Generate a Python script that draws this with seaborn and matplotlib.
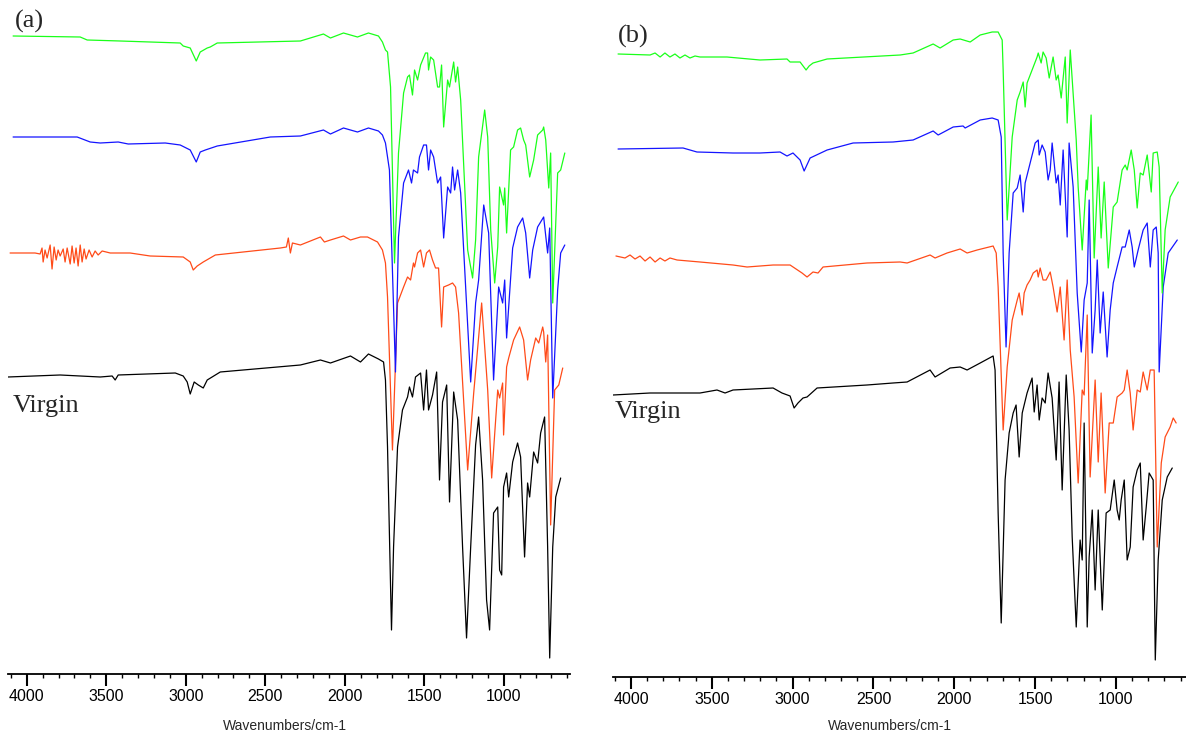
import pandas as pd
import matplotlib
matplotlib.use("Agg")
import matplotlib.pyplot as plt
import seaborn as sns
from matplotlib.ticker import MultipleLocator

# FTIR spectra, (wavenumber cm-1, transmittance a.u. incl. stacking offset)
samples = ["Virgin", "S1", "S2", "S3"]
colors = ["#000000", "#ff4b19", "#1414ff", "#1aff1a"]

# ---------------- panel (a) ----------------
a_virgin = [(4118, 323), (3790, 325), (3538, 323), (3463, 324), (3444, 320), (3425, 325),
            (3066, 327), (3016, 324), (2991, 318), (2972, 306), (2947, 318), (2921, 315),
            (2890, 312), (2865, 320), (2783, 328), (2279, 335), (2153, 340), (2090, 337),
            (1964, 344), (1901, 338), (1851, 346), (1788, 341), (1756, 338), (1744, 320),
            (1731, 253), (1706, 70), (1693, 153), (1668, 253), (1637, 290), (1605, 303),
            (1593, 313), (1574, 303), (1555, 323), (1523, 327), (1504, 290), (1486, 330),
            (1473, 290), (1448, 305), (1422, 328), (1404, 220), (1385, 298), (1359, 315),
            (1341, 198), (1315, 308), (1290, 280), (1259, 153), (1234, 62), (1208, 153),
            (1177, 255), (1158, 283), (1133, 220), (1108, 100), (1089, 70), (1064, 187),
            (1038, 193), (1026, 130), (1013, 125), (1001, 213), (982, 227), (969, 203),
            (944, 238), (913, 257), (894, 243), (869, 143), (850, 217), (837, 203),
            (812, 248), (787, 237), (768, 267), (743, 283), (724, 153), (711, 42),
            (692, 153), (673, 203), (642, 222)]

a_s1 = [(4105, 447), (3948, 447), (3916, 446), (3904, 452), (3897, 438), (3885, 450),
        (3872, 442), (3853, 455), (3841, 431), (3828, 453), (3815, 440), (3803, 450),
        (3790, 444), (3771, 451), (3759, 438), (3746, 452), (3727, 436), (3715, 454),
        (3702, 437), (3690, 452), (3677, 434), (3664, 455), (3652, 438), (3639, 451),
        (3627, 441), (3608, 450), (3589, 443), (3570, 449), (3551, 445), (3526, 449),
        (3475, 447), (3350, 447), (3224, 444), (3016, 443), (2972, 438), (2953, 430),
        (2928, 434), (2890, 438), (2814, 445), (2405, 452), (2367, 453), (2355, 462),
        (2342, 447), (2329, 457), (2279, 455), (2153, 463), (2128, 458), (2090, 460),
        (2008, 464), (1964, 460), (1901, 463), (1857, 463), (1794, 458), (1763, 450),
        (1744, 437), (1731, 403), (1700, 250), (1668, 397), (1630, 413), (1605, 423),
        (1586, 420), (1568, 437), (1561, 433), (1542, 447), (1523, 450), (1504, 433),
        (1486, 447), (1467, 450), (1448, 440), (1429, 432), (1410, 432), (1391, 373),
        (1378, 413), (1347, 415), (1322, 417), (1303, 413), (1284, 387), (1227, 230),
        (1189, 307), (1139, 397), (1101, 310), (1076, 222), (1038, 310), (1026, 302),
        (1007, 317), (1001, 265), (982, 333), (969, 342), (938, 360), (900, 373),
        (875, 360), (850, 320), (831, 340), (799, 362), (780, 357), (755, 373),
        (749, 368), (736, 338), (724, 365), (705, 175), (680, 310), (654, 315),
        (629, 332)]

a_s2 = [(4086, 563), (3683, 563), (3601, 558), (3538, 557), (3425, 558), (3362, 556),
        (3129, 557), (3035, 555), (2972, 550), (2934, 538), (2909, 548), (2877, 550),
        (2802, 554), (2468, 563), (2279, 564), (2134, 570), (2090, 566), (2008, 572),
        (1920, 568), (1851, 572), (1788, 569), (1763, 565), (1744, 557), (1731, 543),
        (1719, 530), (1681, 328), (1662, 463), (1630, 517), (1599, 530), (1580, 517),
        (1568, 530), (1542, 527), (1530, 543), (1504, 555), (1486, 555), (1473, 530),
        (1460, 550), (1441, 543), (1416, 517), (1397, 523), (1378, 462), (1353, 513),
        (1334, 507), (1322, 533), (1309, 510), (1290, 530), (1271, 507), (1208, 318),
        (1177, 397), (1158, 420), (1126, 495), (1095, 467), (1064, 320), (1032, 413),
        (1007, 397), (994, 420), (982, 362), (944, 452), (913, 473), (881, 482),
        (862, 467), (837, 422), (818, 450), (787, 473), (768, 478), (749, 483),
        (724, 447), (711, 472), (692, 302), (661, 410), (642, 447), (616, 455)]

a_s3 = [(4086, 664), (3664, 663), (3620, 660), (3412, 659), (3224, 658), (3035, 657),
        (3016, 654), (2972, 652), (2934, 639), (2909, 648), (2865, 652), (2846, 653),
        (2802, 657), (2279, 659), (2134, 666), (2090, 662), (2008, 667), (1920, 663),
        (1851, 667), (1788, 664), (1763, 658), (1744, 650), (1731, 648), (1712, 613),
        (1687, 437), (1662, 547), (1630, 607), (1605, 623), (1593, 625), (1574, 605),
        (1561, 630), (1542, 620), (1523, 635), (1492, 647), (1479, 647), (1473, 630),
        (1460, 643), (1441, 640), (1416, 613), (1404, 613), (1391, 635), (1378, 573),
        (1353, 620), (1341, 613), (1315, 638), (1303, 618), (1290, 633), (1271, 600),
        (1227, 450), (1196, 422), (1177, 460), (1158, 543), (1120, 590), (1101, 563),
        (1082, 470), (1057, 417), (1038, 453), (1026, 513), (1001, 495), (994, 512),
        (982, 467), (957, 550), (938, 553), (913, 570), (894, 572), (875, 560),
        (862, 555), (837, 523), (812, 540), (787, 565), (755, 570), (749, 573),
        (736, 560), (717, 512), (705, 547), (692, 397), (661, 527), (642, 530),
        (616, 547)]

# ---------------- panel (b) ----------------
b_virgin = [(4111, 305), (3882, 307), (3573, 307), (3468, 310), (3418, 307), (3369, 310),
            (3121, 312), (3066, 307), (3016, 304), (2991, 292), (2967, 297), (2936, 302),
            (2911, 303), (2849, 312), (2540, 315), (2379, 317), (2292, 318), (2150, 330),
            (2119, 323), (2026, 332), (1964, 333), (1921, 330), (1840, 337), (1760, 344),
            (1748, 330), (1729, 187), (1710, 77), (1686, 220), (1661, 267), (1636, 287),
            (1618, 295), (1599, 243), (1580, 287), (1550, 307), (1519, 322), (1506, 288),
            (1488, 315), (1475, 280), (1457, 302), (1438, 297), (1420, 327), (1395, 302),
            (1370, 240), (1352, 318), (1333, 210), (1308, 325), (1290, 270), (1271, 163),
            (1246, 73), (1222, 160), (1209, 140), (1197, 277), (1178, 73), (1166, 143),
            (1147, 190), (1129, 110), (1110, 190), (1085, 90), (1061, 187), (1036, 190),
            (1011, 220), (993, 190), (980, 180), (968, 200), (949, 220), (931, 140),
            (912, 153), (894, 213), (869, 230), (850, 237), (832, 160), (813, 193),
            (795, 227), (770, 220), (757, 40), (739, 140), (714, 200), (683, 223),
            (652, 232)]

b_s1 = [(4093, 444), (4037, 442), (4006, 445), (3975, 441), (3944, 444), (3913, 439),
        (3882, 443), (3851, 438), (3820, 442), (3790, 439), (3759, 442), (3715, 440),
        (3573, 438), (3369, 435), (3282, 433), (3121, 435), (3016, 435), (2942, 427),
        (2911, 423), (2874, 428), (2843, 427), (2812, 433), (2540, 437), (2335, 438),
        (2292, 437), (2150, 445), (2119, 442), (2045, 447), (1964, 451), (1921, 447),
        (1859, 450), (1760, 454), (1741, 447), (1729, 413), (1698, 270), (1673, 333),
        (1642, 380), (1611, 400), (1599, 407), (1580, 385), (1568, 407), (1550, 415),
        (1531, 420), (1512, 427), (1488, 430), (1481, 423), (1469, 432), (1451, 420),
        (1432, 420), (1407, 428), (1389, 413), (1364, 388), (1345, 413), (1321, 360),
        (1302, 420), (1283, 350), (1259, 303), (1234, 217), (1209, 310), (1197, 305),
        (1178, 385), (1160, 223), (1129, 320), (1110, 238), (1092, 307), (1067, 207),
        (1042, 277), (1017, 277), (993, 303), (962, 307), (949, 310), (931, 330),
        (912, 307), (894, 270), (869, 310), (850, 308), (832, 328), (807, 310),
        (788, 330), (764, 330), (745, 153), (720, 237), (696, 263), (665, 273),
        (646, 282), (628, 277)]

b_s2 = [(4080, 551), (3678, 552), (3592, 548), (3369, 547), (3202, 547), (3078, 548),
        (3035, 544), (2998, 547), (2954, 540), (2929, 529), (2892, 542), (2787, 550),
        (2626, 557), (2379, 558), (2255, 560), (2131, 569), (2100, 565), (2007, 573),
        (1946, 574), (1933, 572), (1840, 580), (1766, 582), (1729, 580), (1710, 563),
        (1698, 447), (1680, 353), (1661, 447), (1636, 507), (1611, 512), (1593, 525),
        (1574, 488), (1562, 517), (1531, 537), (1500, 557), (1481, 560), (1475, 545),
        (1457, 555), (1438, 548), (1420, 520), (1407, 530), (1395, 557), (1370, 517),
        (1358, 525), (1345, 495), (1327, 550), (1302, 463), (1290, 557), (1265, 513),
        (1240, 407), (1215, 348), (1197, 400), (1178, 417), (1166, 500), (1147, 347),
        (1129, 390), (1116, 440), (1098, 367), (1079, 408), (1055, 343), (1036, 390),
        (1017, 417), (993, 433), (962, 453), (943, 453), (918, 470), (900, 453),
        (887, 433), (863, 450), (832, 470), (807, 477), (788, 433), (770, 470),
        (751, 473), (739, 447), (733, 328), (708, 413), (677, 447), (621, 460)]

b_s3 = [(4080, 646), (3882, 645), (3851, 647), (3820, 643), (3790, 647), (3759, 643),
        (3728, 646), (3697, 642), (3666, 645), (3635, 642), (3604, 644), (3573, 643),
        (3406, 643), (3202, 640), (3035, 641), (3016, 638), (2954, 638), (2917, 630),
        (2898, 634), (2874, 637), (2787, 641), (2335, 645), (2255, 647), (2131, 656),
        (2088, 652), (2007, 660), (1964, 661), (1902, 658), (1840, 665), (1766, 668),
        (1729, 668), (1704, 660), (1698, 630), (1673, 480), (1642, 563), (1611, 600),
        (1593, 608), (1574, 618), (1562, 593), (1550, 617), (1519, 630), (1488, 643),
        (1481, 647), (1463, 637), (1451, 648), (1432, 642), (1413, 622), (1389, 643),
        (1370, 620), (1358, 625), (1339, 602), (1314, 643), (1302, 577), (1283, 650),
        (1246, 560), (1234, 513), (1209, 450), (1184, 520), (1178, 510), (1154, 585),
        (1135, 442), (1110, 533), (1092, 462), (1073, 518), (1048, 432), (1017, 493),
        (993, 498), (962, 530), (943, 535), (931, 530), (906, 550), (887, 530),
        (869, 492), (850, 527), (832, 525), (807, 545), (782, 508), (770, 547),
        (745, 548), (733, 533), (714, 407), (696, 470), (665, 503), (615, 518)]


def to_frame(traces):
    rows = []
    for name, pts in zip(samples, traces):
        for wn, t in pts:
            rows.append((name, wn, t))
    return pd.DataFrame(rows, columns=["sample", "wavenumber", "transmittance"])


sns.set_style("white")
plt.rcParams["font.family"] = ["Liberation Sans Narrow", "Liberation Sans", "DejaVu Sans"]
serif = ["Liberation Serif", "DejaVu Serif"]

fig = plt.figure(figsize=(11.86, 7.33), dpi=100)
ax_a = fig.add_axes([0.00675, 0.0805, 0.4739, 0.9195])
ax_b = fig.add_axes([0.5169, 0.0764, 0.4831, 0.9236])

panels = [
    (ax_a, [a_virgin, a_s1, a_s2, a_s3], (4118, 583), (26, 700), "(a)",
     (0.0125, 0.9585), (0.0089, 0.389), (0.493, -0.067)),
    (ax_b, [b_virgin, b_s1, b_s2, b_s3], (4111, 567), (23, 700), "(b)",
     (0.0087, 0.9365), (0.0035, 0.3826), (0.4834, -0.062)),
]

for ax, traces, xlim, ylim, tag, tag_pos, virgin_pos, lab_pos in panels:
    df = to_frame(traces)
    sns.lineplot(data=df, x="wavenumber", y="transmittance", hue="sample",
                 palette=dict(zip(samples, colors)), estimator=None, sort=False,
                 legend=False, linewidth=0.9, ax=ax)
    ax.set_xlim(*xlim)
    ax.set_ylim(*ylim)
    ax.set_yticks([])
    ax.set_ylabel("")
    ax.xaxis.set_major_locator(MultipleLocator(500))
    ax.xaxis.set_minor_locator(MultipleLocator(100))
    for side in ["top", "left", "right"]:
        ax.spines[side].set_visible(False)
    ax.spines["bottom"].set_linewidth(1.3)
    ax.spines["bottom"].set_color("black")
    ax.tick_params(axis="x", which="major", direction="out", length=8.5, width=1.5,
                   pad=2, labelsize=11.5, colors="black", bottom=True)
    ax.tick_params(axis="x", which="minor", direction="out", length=3, width=1,
                   colors="black", bottom=True)
    ax.set_xlabel("Wavenumbers/cm-1", fontsize=10)
    ax.xaxis.set_label_coords(*lab_pos)
    ax.text(*tag_pos, tag, transform=ax.transAxes, fontsize=19, family=serif,
            va="baseline", ha="left")
    ax.text(*virgin_pos, "Virgin", transform=ax.transAxes, fontsize=19, family=serif,
            va="baseline", ha="left")
    ax.patch.set_alpha(0)

fig.savefig("out.png", dpi=100, facecolor="white")
